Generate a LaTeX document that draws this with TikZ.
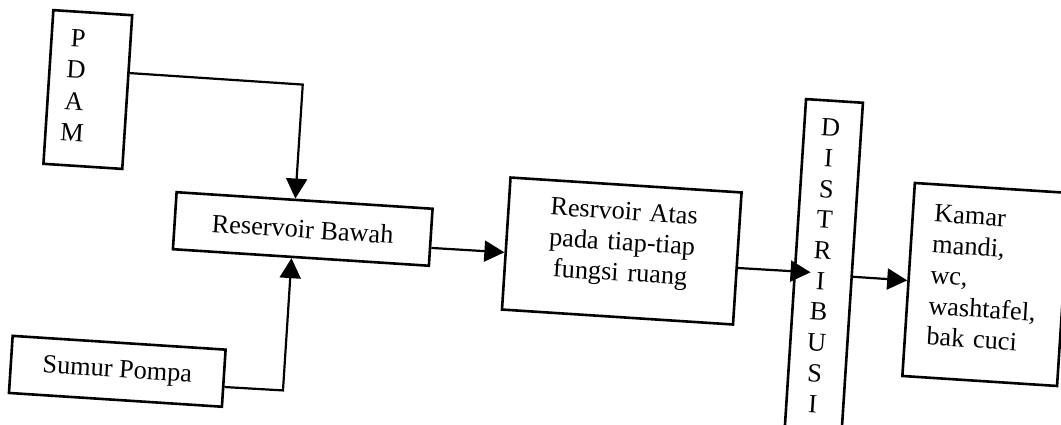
\documentclass[tikz,border=0pt]{standalone}
\usepackage{fontspec}
\setmainfont{Liberation Serif}
\usetikzlibrary{arrows.meta,calc}
\begin{document}
\begin{tikzpicture}[x=1pt,y=-1pt,
  box/.style={draw,rectangle,line width=2.6pt,inner sep=0pt,transform shape,font=\fontsize{26.3}{31}\selectfont},
  txt/.style={inner sep=0pt,transform shape},
  arr/.style={line width=2.2pt,-{Triangle[length=20pt,width=21pt]}},
]
\useasboundingbox (0,0) rectangle (1061,424);
\clip (0,0) rectangle (1061,424);
\begin{scope}[rotate around={-3.7:(530,212)}]
  % boxes
  \node[box,minimum width=79pt,minimum height=154pt] (pdam) at (80.8,118.3) {};
  \node[box,minimum width=256.5pt,minimum height=57.1pt] (rb) at (304.3,243.6) {Reservoir Bawah};
  \node[box,minimum width=213.4pt,minimum height=57.2pt] (sumur) at (128.4,397.6) {Sumur Pompa};
  \node[box,minimum width=231.5pt,minimum height=132.3pt] (ra) at (624.1,245) {};
  \node[box,minimum width=57pt,minimum height=388.5pt] (dist) at (826.7,275.75) {};
  \node[box,minimum width=155pt,minimum height=193.4pt] (kamar) at (989.7,254.9) {};
  % texts
  \node[txt,text width=30pt,align=center,anchor=base,font=\fontsize{26.3}{31.5}\selectfont] (pdamtxt) at (68,76.3) {P\\D\\A\\M};
  \node[txt,text width=180pt,align=center,anchor=base,font=\fontsize{26.3}{30.7}\selectfont] (ratxt) at (624,213.6) {Resrvoir Atas\\pada tiap-tiap\\fungsi ruang};
  \node[txt,text width=30pt,align=center,anchor=base,font=\fontsize{26.3}{30.7}\selectfont] (disttxt) at (824.5,117.4) {D\\I\\S\\T\\R\\I\\B\\U\\S\\I};
  \node[txt,text width=140pt,align=left,anchor=base west,font=\fontsize{26.3}{30.8}\selectfont] (kamartxt) at (933.6,195.9) {Kamar\\mandi,\\wc,\\washtafel,\\bak cuci};
  % connectors
  \coordinate (k1) at (295,99.5);
  \coordinate (k2) at (295,406);
  \draw[arr] ($(pdam.north east)!0.378!(pdam.south east)$) -- (k1) -- ($(rb.north west)!0.464!(rb.north east)$);
  \draw[arr] ($(sumur.north east)!0.647!(sumur.south east)$) -- (k2) -- ($(rb.south west)!0.464!(rb.south east)$);
  \draw[arr] ($(rb.north east)!0.678!(rb.south east)$) -- ($(ra.north west)!0.566!(ra.south west)$);
  \draw[arr,shorten >=-17pt] ($(ra.north east)!0.57!(ra.south east)$) -- ($(dist.north west)!0.4448!(dist.south west)$);
  \draw[arr] ($(dist.north east)!0.449!(dist.south east)$) -- ($(kamar.north west)!0.505!(kamar.south west)$);
\end{scope}
\end{tikzpicture}
\end{document}
